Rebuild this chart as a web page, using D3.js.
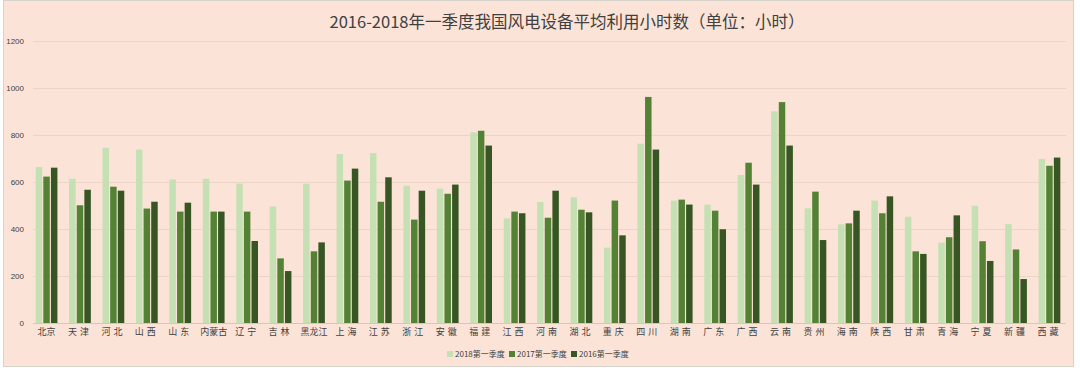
<!DOCTYPE html>
<html><head><meta charset="utf-8">
<script src="https://cdn.jsdelivr.net/npm/d3@7"></script>
<style>body{margin:0;background:#fff}svg{display:block}</style>
</head><body>
<svg id="c" width="1080" height="368"></svg>
<script>
const categories = ["北京","天津","河北","山西","山东","内蒙古","辽宁","吉林","黑龙江","上海","江苏","浙江","安徽","福建","江西","河南","湖北","重庆","四川","湖南","广东","广西","云南","贵州","海南","陕西","甘肃","青海","宁夏","新疆","西藏"];
const seriesNames = ["2018第一季度","2017第一季度","2016第一季度"];
const v2018 = [664,614,746,738,611,614,593,496,593,719,723,584,572,811,445,515,535,321,763,521,504,630,901,488,420,521,452,342,499,421,698];
const v2017 = [623,501,580,487,474,474,474,275,305,606,516,440,550,818,474,448,482,521,962,525,478,682,940,559,424,467,305,365,348,313,669];
const v2016 = [661,567,563,516,512,474,349,221,343,657,620,563,589,755,467,563,471,373,738,504,399,589,755,353,478,539,294,458,264,187,704];
const yTicks = [0,200,400,600,800,1000,1200];
const colors = ["#c5e0b3","#548235","#375623"];

const svg = d3.select("#c");
svg.append("rect").attr("x",0).attr("y",0).attr("width",1080).attr("height",368).attr("fill","#fff");
svg.append("rect").attr("x",3.5).attr("y",0.5).attr("width",1070).attr("height",366).attr("fill","#fbe4d7").attr("stroke","#d6d2cc");

const x0 = d3.scaleBand().domain(categories).range([30,1066]).paddingInner(0.35).paddingOuter(0.17);
const x1 = d3.scaleBand().domain(seriesNames).range([0,x0.bandwidth()]).paddingInner(0.15);
const y = d3.scaleLinear().domain([0,1200]).range([323,41]);

// grid
svg.append("g").selectAll("line").data(yTicks).join("line")
  .attr("x1",33).attr("x2",1066).attr("y1",d=>Math.round(y(d))+0.5).attr("y2",d=>Math.round(y(d))+0.5)
  .attr("stroke",d=>d===0?"#d9c6b8":"#ecd5c6").attr("stroke-width",1);

// y axis labels
const ya = svg.append("g").attr("transform","translate(24,0)")
  .call(d3.axisLeft(y).tickValues(yTicks).tickFormat(d3.format("d")).tickSize(0).tickPadding(0));
ya.select(".domain").remove();
ya.selectAll("text").attr("font-family","Liberation Sans, Arial, sans-serif").attr("font-size",8).attr("fill","#404040");

const data = categories.map((c,i)=>({c, vals:[v2018[i],v2017[i],v2016[i]]}));
const g = svg.append("g").selectAll("g").data(data).join("g").attr("transform",d=>`translate(${x0(d.c)},0)`);
g.selectAll("rect").data(d=>d.vals.map((v,k)=>({v,k}))).join("rect")
  .attr("x",d=>x1(seriesNames[d.k])).attr("width",x1.bandwidth())
  .attr("y",d=>y(d.v)).attr("height",d=>y(0)-y(d.v)).attr("fill",d=>colors[d.k]);

// x axis labels
const xa = svg.append("g").attr("transform","translate(0,327)")
  .call(d3.axisBottom(x0).tickSize(0).tickPadding(0));
xa.select(".domain").remove();
xa.selectAll("text").attr("font-family","Noto Sans CJK SC, sans-serif").attr("font-size",9).attr("fill","#404040")
  .attr("letter-spacing",d=>d.length===2&&d!=="北京"?"3px":"0px").attr("dy","0.9em");

// title
svg.append("text").attr("x",567).attr("y",28).attr("text-anchor","middle")
  .attr("font-family","Noto Sans CJK SC, sans-serif").attr("font-size",16.5).attr("fill","#404040")
  .text("2016-2018年一季度我国风电设备平均利用小时数（单位：小时）");

// legend
const lg = svg.append("g").attr("transform","translate(447,354)");
const items = lg.selectAll("g").data(seriesNames).join("g").attr("transform",(d,i)=>`translate(${i*62},0)`);
items.append("rect").attr("x",0).attr("y",-3).attr("width",6).attr("height",6).attr("fill",(d,i)=>colors[i]);
items.append("text").attr("x",8).attr("y",0).attr("dy","0.35em").attr("font-family","Noto Sans CJK SC, sans-serif")
  .attr("font-size",8).attr("fill","#404040").text(d=>d);
</script>
</body></html>
